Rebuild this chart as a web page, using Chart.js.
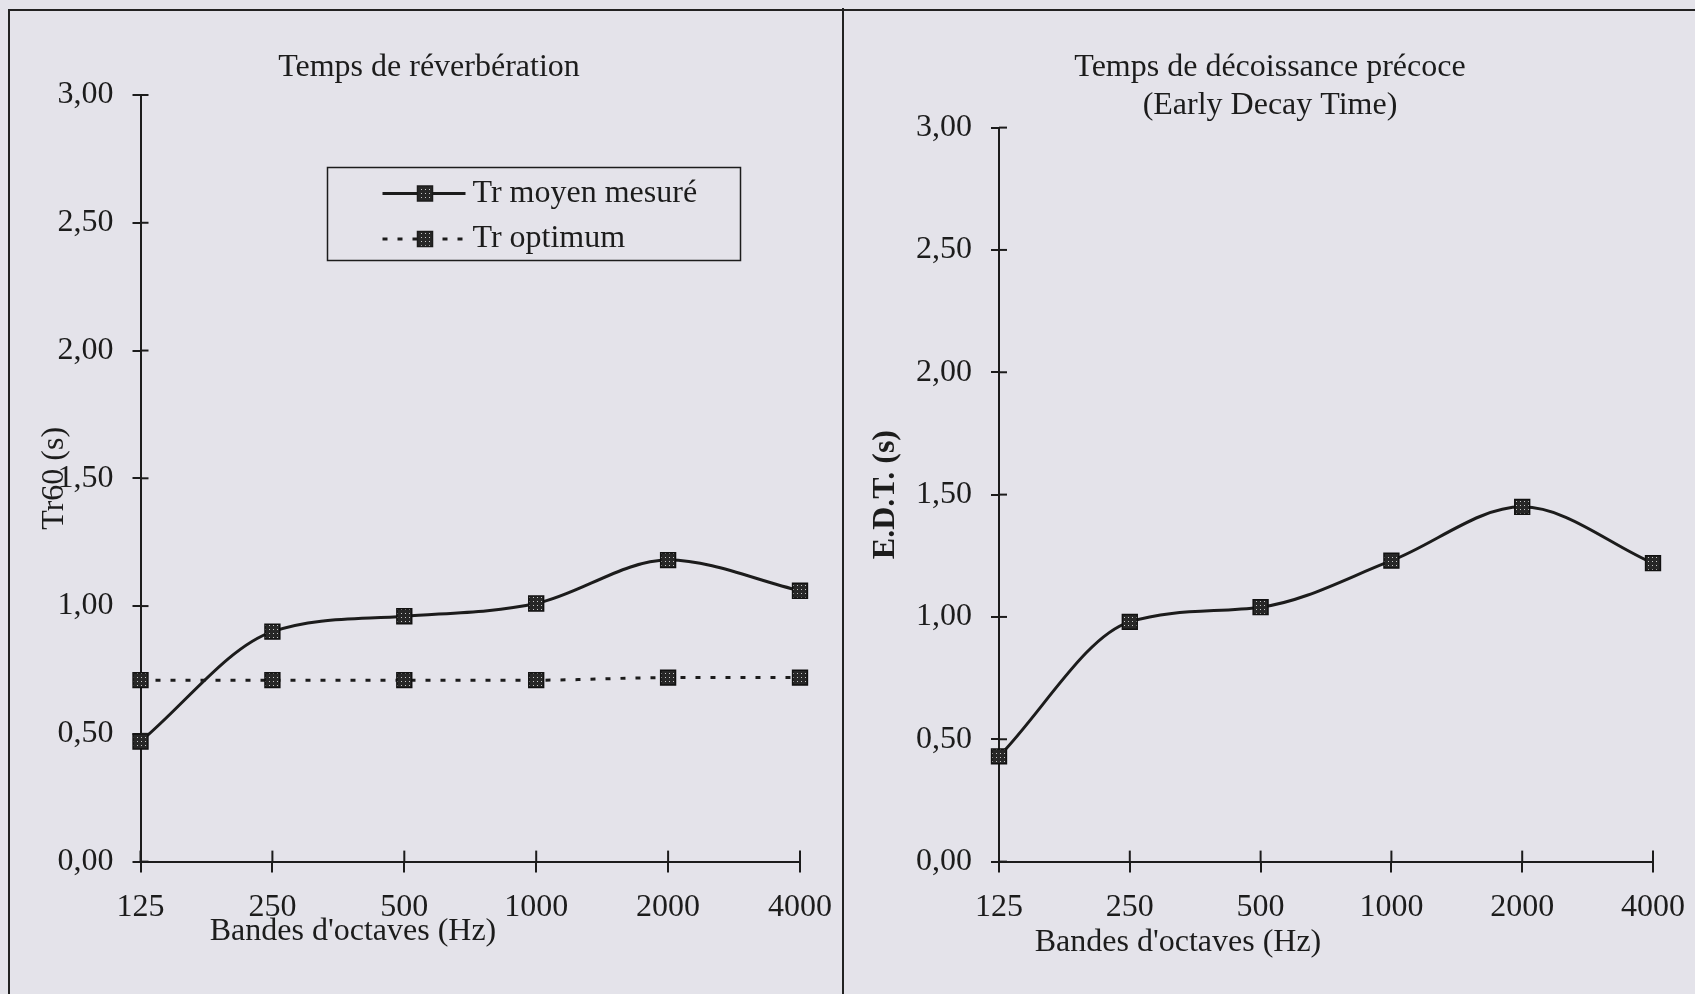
<!DOCTYPE html>
<html lang="fr">
<head>
  <meta charset="UTF-8">
  <title>Temps de réverbération et EDT</title>
  <style>
    html, body { margin: 0; padding: 0; }
    body {
      width: 1695px;
      height: 994px;
      background: #e4e3ea;
      position: relative;
      overflow: hidden;
    }
    canvas { position: absolute; top: 0; }
    #graphTr { left: 0; }
    #graphEdt { left: 843px; }
    /* cadre du document scanné */
    #cadre {
      position: absolute; left: 8px; top: 9px; width: 1687px; height: 985px;
      border-left: 2px solid #222; border-top: 2px solid #222;
    }
    #separateur {
      position: absolute; left: 842px; top: 8px; width: 2px; height: 986px; background: #222;
    }
  </style>
</head>
<body>
  <canvas id="graphTr" width="843" height="994"></canvas>
  <canvas id="graphEdt" width="852" height="994"></canvas>
  <div id="cadre"></div>
  <div id="separateur"></div>

  <script src="https://cdn.jsdelivr.net/npm/chart.js"></script>
  <script>
    // --- données ---
    const bandes = ['125', '250', '500', '1000', '2000', '4000'];
    const trMesure = [0.47, 0.90, 0.96, 1.01, 1.18, 1.06];
    const trOptimum = [0.71, 0.71, 0.71, 0.71, 0.72, 0.72];
    const edtMesure = [0.43, 0.98, 1.04, 1.23, 1.45, 1.22];
    const yMax = 3;
    const yPas = 0.5;

    const encre = '#1c1c1c';
    const police = { family: '"Liberation Serif", "Times New Roman", serif', size: 32, lineHeight: 1.2 };
    const policeCss = '32px "Liberation Serif", "Times New Roman", serif';

    // petit motif pointillé pour les carrés des marqueurs
    function motif(ctx) {
      const c = document.createElement('canvas');
      c.width = 4; c.height = 4;
      const g = c.getContext('2d');
      g.fillStyle = '#272727';
      g.fillRect(0, 0, 4, 4);
      g.fillStyle = '#c8c8c8';
      g.fillRect(1, 1, 1, 1);
      return ctx.createPattern(c, 'repeat');
    }

    function ligne(ctx, x1, y1, x2, y2) {
      ctx.beginPath();
      ctx.moveTo(x1, y1);
      ctx.lineTo(x2, y2);
      ctx.stroke();
    }

    // titres, demi-graduations intérieures et légende encadrée
    const decor = {
      id: 'decor',
      afterDraw(chart, args, opts) {
        const { ctx, chartArea, scales } = chart;
        ctx.save();
        ctx.strokeStyle = encre;
        ctx.lineWidth = 2;
        scales.y.ticks.forEach((t, i) => {
          const y = scales.y.getPixelForTick(i);
          ligne(ctx, chartArea.left, y, chartArea.left + 8, y);
        });
        scales.x.ticks.forEach((t, i) => {
          const x = scales.x.getPixelForTick(i);
          ligne(ctx, x, chartArea.bottom, x, chartArea.bottom - 11);
        });

        ctx.fillStyle = encre;
        ctx.font = policeCss;
        ctx.textAlign = 'center';
        ctx.textBaseline = 'middle';
        opts.titre.forEach((t, i) => ctx.fillText(t, opts.titreX, opts.titreY + i * 38));
        ctx.fillText(opts.axeX, opts.axeXX, opts.axeXY);

        if (opts.legende) {
          const L = opts.legende;
          ctx.lineWidth = 1.5;
          ctx.strokeRect(L.x, L.y, L.w, L.h);
          ctx.textAlign = 'left';
          chart.data.datasets.forEach((ds, i) => {
            const y = L.y + 26 + i * 45.5;
            ctx.save();
            ctx.lineWidth = ds.borderWidth;
            ctx.setLineDash(ds.borderDash || []);
            ligne(ctx, L.x + 55, y, L.x + 138, y);
            ctx.restore();
            ctx.fillStyle = ds.pointBackgroundColor;
            ctx.fillRect(L.x + 90, y - 7.5, 15, 15);
            ctx.lineWidth = 1.5;
            ctx.strokeRect(L.x + 90, y - 7.5, 15, 15);
            ctx.fillStyle = encre;
            ctx.fillText(ds.label, L.x + 145, y);
          });
        }
        ctx.restore();
      }
    };

    function echelles(largeurY, hauteurX, titreY, grasY, padTitreY) {
      return {
        x: {
          type: 'category',
          offset: false,
          grid: { drawOnChartArea: false, color: encre, lineWidth: 2, tickLength: 11 },
          border: { color: encre, width: 2 },
          ticks: { color: encre, font: police, padding: 16, maxRotation: 0, autoSkip: false },
          afterFit: s => {
            s.height = hauteurX;
            // la marge de droite est fixée par layout.padding
            s.paddingLeft = 0;
            s.paddingRight = 0;
          }
        },
        y: {
          min: 0,
          max: yMax,
          grid: { drawOnChartArea: false, color: encre, lineWidth: 2, tickLength: 8 },
          border: { color: encre, width: 2 },
          ticks: {
            stepSize: yPas,
            color: encre,
            font: police,
            padding: 19,
            callback: v => v.toFixed(2).replace('.', ',')
          },
          title: {
            display: true,
            text: titreY,
            color: encre,
            font: Object.assign({}, police, { weight: grasY ? 'bold' : 'normal' }),
            padding: { top: padTitreY, bottom: 0 }
          },
          afterFit: s => { s.width = largeurY; }
        }
      };
    }

    function serie(ctx, label, valeurs, pointille) {
      return {
        label: label,
        data: valeurs,
        borderColor: encre,
        borderWidth: 3,
        borderDash: pointille ? [5, 10] : [],
        cubicInterpolationMode: 'monotone',
        pointStyle: 'rect',
        pointRadius: 10.5,
        pointHoverRadius: 10.5,
        pointBackgroundColor: motif(ctx),
        pointBorderColor: '#111',
        pointBorderWidth: 1.5,
        clip: false
      };
    }

    const ctxTr = document.getElementById('graphTr').getContext('2d');
    new Chart(ctxTr, {
      type: 'line',
      data: {
        labels: bandes,
        datasets: [
          serie(ctxTr, 'Tr moyen mesuré', trMesure, false),
          serie(ctxTr, 'Tr optimum', trOptimum, true)
        ]
      },
      options: {
        responsive: false,
        animation: false,
        layout: { padding: { top: 95, right: 43, left: 0, bottom: 0 } },
        scales: echelles(140.5, 132.4, 'Tr60 (s)', false, 35),
        plugins: {
          legend: { display: false },
          tooltip: { enabled: false },
          decor: {
            titre: ['Temps de réverbération'],
            titreX: 429, titreY: 68,
            axeX: "Bandes d'octaves (Hz)", axeXX: 353, axeXY: 932,
            legende: { x: 327.5, y: 167.5, w: 413, h: 93 }
          }
        }
      },
      plugins: [decor]
    });

    const ctxEdt = document.getElementById('graphEdt').getContext('2d');
    new Chart(ctxEdt, {
      type: 'line',
      data: {
        labels: bandes,
        datasets: [serie(ctxEdt, 'E.D.T.', edtMesure, false)]
      },
      options: {
        responsive: false,
        animation: false,
        layout: { padding: { top: 127.6, right: 42, left: 0, bottom: 0 } },
        scales: echelles(156, 132.4, 'E.D.T. (s)', true, 24),
        plugins: {
          legend: { display: false },
          tooltip: { enabled: false },
          decor: {
            titre: ['Temps de décoissance précoce', '(Early Decay Time)'],
            titreX: 427, titreY: 68,
            axeX: "Bandes d'octaves (Hz)", axeXX: 335, axeXY: 943,
            legende: null
          }
        }
      },
      plugins: [decor]
    });
  </script>
</body>
</html>
